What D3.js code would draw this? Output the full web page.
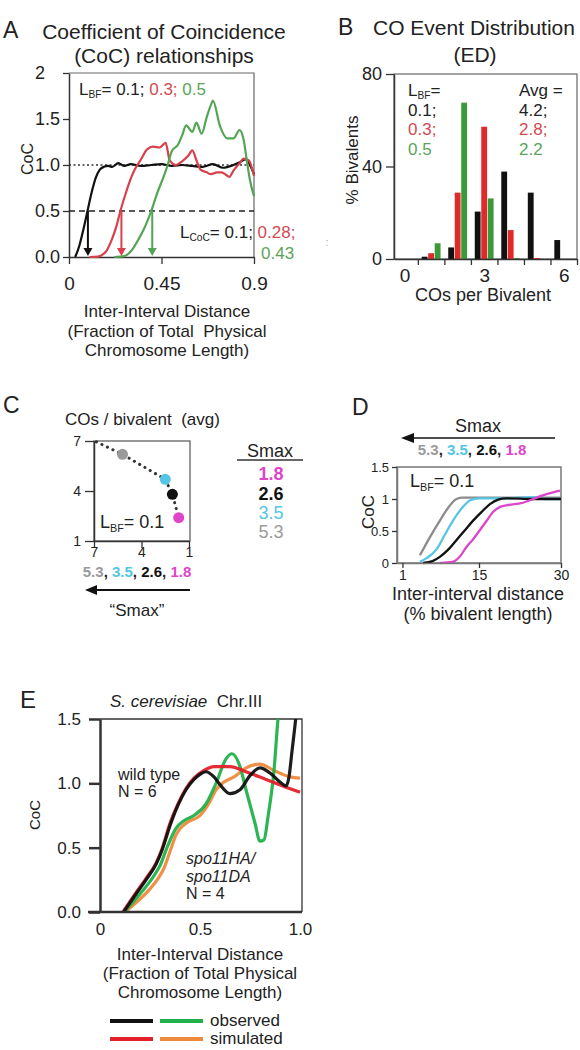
<!DOCTYPE html>
<html><head><meta charset="utf-8">
<script src="https://cdn.jsdelivr.net/npm/d3@7"></script>
<style>
html,body{margin:0;padding:0;background:#fff;}
svg{display:block;}
</style></head><body>
<svg id="fig" width="580" height="1050"></svg>
<script>
// ================= DATA =================
// Panel A: CoC curves for L_BF = 0.1 (black), 0.3 (red), 0.5 (green)  [distance, CoC]
const aBlack = [[0.03,0],[0.05,0.12],[0.07,0.3],[0.09,0.5],[0.11,0.7],[0.13,0.86],[0.15,0.95],[0.17,0.98],[0.19,0.99],[0.21,0.98],[0.24,1.02],[0.27,0.99],[0.3,1.01],[0.35,0.99],[0.4,1.0],[0.45,1.01],[0.5,0.99],[0.55,1.0],[0.6,0.99],[0.65,0.98],[0.7,1.01],[0.75,0.97],[0.8,1.0],[0.83,1.03],[0.86,1.06],[0.88,1.0],[0.9,0.9]];
const aRed = [[0.1,0],[0.14,0.005],[0.18,0.06],[0.21,0.2],[0.23,0.33],[0.25,0.5],[0.28,0.72],[0.3,0.85],[0.32,0.95],[0.35,1.06],[0.38,1.17],[0.41,1.2],[0.44,1.19],[0.47,1.24],[0.49,1.05],[0.52,1.0],[0.55,1.04],[0.58,1.1],[0.6,1.16],[0.62,1.05],[0.64,0.95],[0.67,0.92],[0.69,0.9],[0.72,0.92],[0.74,0.92],[0.76,0.9],[0.78,0.87],[0.8,0.94],[0.83,1.02],[0.85,1.07],[0.875,1.05],[0.9,0.88]];
const aGreen = [[0.22,0],[0.27,0.01],[0.3,0.06],[0.34,0.2],[0.37,0.33],[0.4,0.5],[0.43,0.7],[0.46,0.87],[0.48,1.0],[0.5,1.15],[0.53,1.22],[0.55,1.32],[0.57,1.43],[0.6,1.36],[0.62,1.46],[0.645,1.34],[0.67,1.52],[0.69,1.65],[0.7,1.7],[0.735,1.42],[0.77,1.29],[0.8,1.29],[0.83,1.38],[0.85,1.27],[0.865,1.05],[0.88,0.84],[0.9,0.66]];
const aArrowX = [0.092, 0.255, 0.405];
const aYTicks = [0, 0.5, 1, 1.5, 2];
const aYTickLabels = ["0.0","0.5","1.0","1.5","2"];
const aXTicks = [0, 0.45, 0.9];
const aXTickLabels = ["0","0.45","0.9"];

// Panel B: CO event distribution (% bivalents)
const coCounts = [1,2,3,4,5,6];
const edBlack = [1.0, 5.0, 20.5, 37.8, 28.7, 8.2];
const edRed   = [2.5, 28.7, 57.2, 12.5, 0.4, 0];
const edGreen = [6.8, 67.6, 26.2, 0.4, 0, 0];
const bYTicks = [0, 40, 80];
const bXLabels = [0, 3, 6];
const bXMinorTicks = [0.5,1.5,2.5,3.5,4.5,5.5,6.5];

// Panel C: avg COs per bivalent vs Smax
const smaxLabels = ["5.3","3.5","2.6","1.8"];
const smaxPlotPos = [5.2, 2.5, 2.05, 1.65];
const avgCOs = [6.2, 4.7, 3.8, 2.4];
const cTrendX = [6.85, 5.2, 2.5, 2.05, 1.65];
const cTrendY = [6.95, 6.2, 4.7, 3.8, 2.4];
const cTicks = [1, 4, 7];

// Panel D: CoC curves for Smax values [distance %, CoC]
const dGray = [[4.2,0.12],[6,0.4],[7.9,0.67],[9.5,0.88],[10.9,1.0],[12,1.02],[15,1.02],[20,1.02],[25,1.02],[30,1.02]];
const dCyan = [[4.2,0.02],[5.5,0.08],[7.3,0.22],[8.8,0.45],[10.3,0.67],[12,0.87],[13.4,0.98],[15,1.01],[20,1.01],[25,1.03],[27,1.0],[30,1.0]];
const dBlack = [[4.8,0],[6.5,0.03],[7.9,0.1],[9.5,0.22],[10.9,0.36],[12.5,0.52],[14,0.67],[15.5,0.8],[17,0.92],[18.5,0.99],[20,1.01],[25,1.0],[30,1.0]];
const dMagenta = [[7.9,0],[10.3,0.02],[11.5,0.1],[12.7,0.25],[14,0.38],[15.2,0.52],[16.4,0.66],[17.6,0.8],[19,0.88],[20,0.9],[21.5,0.92],[22.5,0.93],[24.3,0.98],[26.8,1.06],[29.8,1.13]];
const dYTicks = [0, 0.5, 1, 1.5];
const dYTickLabels = ["0","0.5","1","1.5"];
const dXTicks = [1, 15, 30];

// Panel E: S. cerevisiae Chr.III CoC
const eBlack = [[0.118,0],[0.18,0.14],[0.23,0.25],[0.28,0.37],[0.31,0.48],[0.35,0.67],[0.39,0.83],[0.43,0.95],[0.47,1.03],[0.5,1.07],[0.53,1.09],[0.57,1.05],[0.6,0.99],[0.65,0.92],[0.7,0.95],[0.75,1.06],[0.8,1.12],[0.85,1.08],[0.9,1.01],[0.93,0.98],[0.945,1.05],[0.96,1.25],[0.975,1.45],[0.985,1.6]];
const eRed = [[0.115,0],[0.18,0.15],[0.23,0.26],[0.28,0.38],[0.31,0.49],[0.35,0.69],[0.39,0.84],[0.43,0.96],[0.47,1.04],[0.52,1.1],[0.57,1.13],[0.65,1.13],[0.73,1.09],[0.83,1.03],[0.93,0.97],[1.0,0.93]];
const eGreen = [[0.12,0],[0.2,0.14],[0.26,0.26],[0.3,0.36],[0.34,0.52],[0.38,0.65],[0.42,0.71],[0.47,0.75],[0.53,0.84],[0.58,1.0],[0.63,1.19],[0.66,1.23],[0.7,1.13],[0.73,0.95],[0.775,0.69],[0.8,0.55],[0.82,0.56],[0.84,0.74],[0.87,1.1],[0.89,1.5],[0.9,1.65]];
const eOrange = [[0.125,0],[0.2,0.1],[0.25,0.18],[0.29,0.26],[0.32,0.34],[0.35,0.47],[0.38,0.6],[0.43,0.69],[0.5,0.75],[0.55,0.86],[0.58,0.95],[0.62,1.01],[0.67,1.05],[0.73,1.12],[0.8,1.15],[0.87,1.1],[0.95,1.05],[1.0,1.04]];
const eYTicks = [0, 0.5, 1.0, 1.5];
const eXTicks = [0, 0.5, 1.0];

// ================= DRAW =================
const FONT = '"Liberation Sans", Arial, Helvetica, sans-serif';
const INK = "#222";
const svg = d3.select("#fig").attr("font-family", FONT);

const C = {
  aRed:"#d8404c", aGreen:"#52a552", aRedT:"#d24a50", aGreenT:"#5aa55a",
  bRed:"#e02a2a", bGreen:"#3a9a3a",
  gray:"#9a9a9a", cyan:"#55c5e5", magenta:"#de45c8",
  eBlack:"#111", eRed:"#e4202a", eGreen:"#22b04a", eOrange:"#ef8a3c"
};

function addText(sel, x, y, parts, size, anchor, extra) {
  const t = sel.append("text").attr("x",x).attr("y",y).attr("font-size",size)
    .attr("text-anchor",anchor||"start").attr("fill",INK);
  if (extra) for (const k in extra) t.attr(k, extra[k]);
  let shift = 0;
  parts.forEach(p => {
    if (typeof p === "string") p = {t:p};
    const s = t.append("tspan").text(p.t);
    if (p.c) s.attr("fill", p.c);
    if (p.w) s.attr("font-weight", p.w);
    if (p.i) s.attr("font-style", "italic");
    if (p.sub) {
      s.attr("font-size", size*0.6).attr("dy", size*0.2); shift = size*0.2;
    } else if (shift) { s.attr("dy", -shift); shift = 0; }
  });
  return t;
}
function styleAxis(g, size) {
  g.attr("font-family", FONT).attr("font-size", size);
  g.selectAll(".tick line").attr("stroke","#333").attr("stroke-width",1.3);
  g.selectAll(".tick text").attr("fill", INK);
  g.select(".domain").attr("stroke","#333").attr("stroke-width",1.5);
}
const smooth = d3.curveMonotoneX;

// ---------- Panel A ----------
const xA = d3.scaleLinear().domain([0,0.9]).range([69,254]);
const yA = d3.scaleLinear().domain([0,2]).range([257,73]);
const gA = svg.append("g");
addText(gA, 3, 38, ["A"], 23);
addText(gA, 164, 39, ["Coefficient of Coincidence"], 21, "middle");
addText(gA, 164, 63, ["(CoC) relationships"], 21, "middle");
gA.append("path").attr("d",`M${xA(0)},${yA(2)}H${xA(0.9)}V${yA(0)}`)
  .attr("fill","none").attr("stroke","#666").attr("stroke-width",1.2);
const axAy = gA.append("g").attr("transform",`translate(${xA(0)},0)`)
  .call(d3.axisLeft(yA).tickValues(aYTicks).tickFormat((d,i)=>aYTickLabels[i]).tickSize(6).tickSizeOuter(0));
styleAxis(axAy, 18);
axAy.selectAll(".tick text").attr("text-anchor","start").attr("x",35-xA(0));
const axAx = gA.append("g").attr("transform",`translate(0,${yA(0)})`)
  .call(d3.axisBottom(xA).tickValues(aXTicks).tickFormat((d,i)=>aXTickLabels[i]).tickSize(7).tickSizeOuter(0));
styleAxis(axAx, 19);
axAx.selectAll(".tick text").attr("dy",null).attr("y",33);
// reference lines
gA.append("line").attr("x1",xA(0)).attr("x2",xA(0.9)).attr("y1",yA(1)).attr("y2",yA(1))
  .attr("stroke","#333").attr("stroke-width",1.3).attr("stroke-dasharray","2,2.5");
gA.append("line").attr("x1",xA(0)).attr("x2",xA(0.9)).attr("y1",yA(0.5)).attr("y2",yA(0.5))
  .attr("stroke","#222").attr("stroke-width",1.6).attr("stroke-dasharray","6,4");
const lineA = d3.line().x(d=>xA(d[0])).y(d=>yA(d[1])).curve(smooth);
[[aBlack,"#111"],[aRed,C.aRed],[aGreen,C.aGreen]].forEach(([d,c]) => {
  gA.append("path").attr("d",lineA(d)).attr("fill","none").attr("stroke",c).attr("stroke-width",2.2);
});
// arrows
[["#111"],[C.aRed],[C.aGreen]].forEach(([c],i) => {
  const x = xA(aArrowX[i]);
  gA.append("line").attr("x1",x).attr("x2",x).attr("y1",yA(0.5)).attr("y2",yA(0)-7).attr("stroke",c).attr("stroke-width",2);
  gA.append("path").attr("d",`M${x-4.5},${yA(0)-9}L${x+4.5},${yA(0)-9}L${x},${yA(0)-1}Z`).attr("fill",c);
});
addText(gA, 79, 95, ["L",{t:"BF",sub:1},"= 0.1; ",{t:"0.3; ",c:C.aRedT},{t:"0.5",c:C.aGreenT}], 17);
addText(gA, 180, 238, ["L",{t:"CoC",sub:1},"= 0.1; ",{t:"0.28;",c:C.aRedT}], 17);
addText(gA, 261, 259, [{t:"0.43",c:C.aGreenT}], 17);
addText(gA, 27, 159, ["CoC"], 16, "middle", {transform:"rotate(-90,27,159)", dy:"0.35em"});
addText(gA, 167, 317, ["Inter-Interval Distance"], 17, "middle");
addText(gA, 167, 337, ["(Fraction of Total  Physical"], 17, "middle", {"xml:space":"preserve"});
addText(gA, 167, 356, ["Chromosome Length)"], 17, "middle");
addText(gA, 327, 246, [":"], 11, "middle", {fill:"#aaa"});

// ---------- Panel B ----------
const xB = d3.scaleLinear().domain([-0.4,6.5]).range([394,577]);
const yB = d3.scaleLinear().domain([0,80]).range([259,74]);
const gB = svg.append("g");
addText(gB, 338, 35, ["B"], 23);
addText(gB, 474, 35, ["CO Event Distribution"], 21, "middle");
addText(gB, 475, 62, ["(ED)"], 21, "middle");
gB.append("rect").attr("x",xB(-0.4)).attr("y",yB(80)).attr("width",xB(6.5)-xB(-0.4)).attr("height",yB(0)-yB(80))
  .attr("fill","none").attr("stroke","#666").attr("stroke-width",1.2);
const bw = xB(0.22)-xB(0);
[[edBlack,"#111",-0.245],[edRed,C.bRed,0],[edGreen,C.bGreen,0.245]].forEach(([vals,c,off]) => {
  gB.selectAll(null).data(coCounts).enter().append("rect")
    .attr("x",(d,i)=>xB(d+off)-bw/2).attr("width",bw)
    .attr("y",(d,i)=>yB(vals[i])).attr("height",(d,i)=>yB(0)-yB(vals[i]))
    .attr("fill",c);
});
const axBy = gB.append("g").attr("transform",`translate(${xB(-0.4)},0)`)
  .call(d3.axisLeft(yB).tickValues(bYTicks).tickFormat(d3.format("d")).tickSize(8).tickPadding(4).tickSizeOuter(0));
styleAxis(axBy, 18);
const axBx = gB.append("g").attr("transform",`translate(0,${yB(0)})`)
  .call(d3.axisBottom(xB).tickValues(bXMinorTicks).tickFormat("").tickSize(6).tickSizeOuter(0));
styleAxis(axBx, 18);
const axBl = gB.append("g").attr("transform",`translate(0,${yB(0)})`)
  .call(d3.axisBottom(xB).tickValues(bXLabels).tickFormat(d3.format("d")).tickSize(0).tickSizeOuter(0));
styleAxis(axBl, 19);
axBl.select(".domain").remove();
axBl.selectAll(".tick text").attr("dy",null).attr("y",23);
addText(gB, 408, 96, ["L",{t:"BF",sub:1},"="], 17);
addText(gB, 408, 116, ["0.1;"], 17);
addText(gB, 408, 135, [{t:"0.3;",c:C.aRedT}], 17);
addText(gB, 408, 155, [{t:"0.5",c:C.aGreenT}], 17);
addText(gB, 519, 96, ["Avg ="], 17);
addText(gB, 519, 116, ["4.2;"], 17);
addText(gB, 519, 135, [{t:"2.8;",c:C.aRedT}], 17);
addText(gB, 519, 155, [{t:"2.2",c:C.aGreenT}], 17);
addText(gB, 352, 160, ["% Bivalents"], 17, "middle", {transform:"rotate(-90,352,160)", dy:"0.35em"});
addText(gB, 483, 301, ["COs per Bivalent"], 18, "middle");

// ---------- Panel C ----------
const xC = d3.scaleLinear().domain([7,1]).range([94,189]);
const yC = d3.scaleLinear().domain([1,7]).range([541,441]);
const gC = svg.append("g");
addText(gC, 3, 413, ["C"], 23);
addText(gC, 65, 425, ["COs / bivalent  (avg)"], 17, "start", {"xml:space":"preserve"});
gC.append("rect").attr("x",xC(7)).attr("y",yC(7)).attr("width",xC(1)-xC(7)+1).attr("height",yC(1)-yC(7))
  .attr("fill","none").attr("stroke","#555").attr("stroke-width",1.2);
const axCy = gC.append("g").attr("transform",`translate(${xC(7)},0)`)
  .call(d3.axisLeft(yC).tickValues(cTicks).tickFormat(d3.format("d")).tickSize(9).tickPadding(4).tickSizeOuter(0));
styleAxis(axCy, 14);
const axCx = gC.append("g").attr("transform",`translate(0,${yC(1)})`)
  .call(d3.axisBottom(xC).tickValues(cTicks).tickFormat(d3.format("d")).tickSize(7).tickSizeOuter(0));
styleAxis(axCx, 14);
axCx.selectAll(".tick text").attr("dy",null).attr("y",16);
const trend = cTrendX.map((x,i)=>[x,cTrendY[i]]);
gC.append("path").attr("d", d3.line().x(d=>xC(d[0])).y(d=>yC(d[1]))(trend))
  .attr("fill","none").attr("stroke","#333").attr("stroke-width",3)
  .attr("stroke-linecap","round").attr("stroke-dasharray","0.1,6");
const cColors = [C.gray, C.cyan, "#111", C.magenta];
gC.selectAll(null).data(smaxPlotPos).enter().append("circle")
  .attr("cx",d=>xC(d)).attr("cy",(d,i)=>yC(avgCOs[i])).attr("r",5.5).attr("fill",(d,i)=>cColors[i]);
addText(gC, 100, 528, ["L",{t:"BF",sub:1},"= 0.1"], 18);
addText(gC, 137, 577, [{t:"5.3",c:C.gray},", ",{t:"3.5",c:C.cyan},", ",{t:"2.6",c:"#111"},", ",{t:"1.8",c:C.magenta}], 15, "middle", {"font-weight":"bold"});
gC.append("line").attr("x1",190).attr("x2",94).attr("y1",590).attr("y2",590).attr("stroke","#111").attr("stroke-width",2);
gC.append("path").attr("d","M85,590L97,585L97,595Z").attr("fill","#111");
addText(gC, 137, 616, ["\u201CSmax\u201D"], 17, "middle");
// Smax table
addText(gC, 270, 457, ["Smax"], 18, "middle");
gC.append("line").attr("x1",237).attr("x2",303).attr("y1",460).attr("y2",460).attr("stroke","#333").attr("stroke-width",1.3);
const tblY = [480, 500, 519, 538];
const tblOrder = [3,2,1,0];
tblOrder.forEach((k,j) => {
  addText(gC, 271, tblY[j], [{t:smaxLabels[k], c:cColors[k]}], 18, "middle", {"font-weight": k>=2 ? "bold" : "normal"});
});

// ---------- Panel D ----------
const xD = d3.scaleLinear().domain([0,30]).range([397,561]);
const yD = d3.scaleLinear().domain([0,1.5]).range([563,467]);
const gD = svg.append("g");
addText(gD, 352, 415, ["D"], 23);
addText(gD, 478, 432, ["Smax"], 18, "middle");
gD.append("line").attr("x1",555).attr("x2",410).attr("y1",438).attr("y2",438).attr("stroke","#111").attr("stroke-width",1.6);
gD.append("path").attr("d","M401,438L414,433L414,443Z").attr("fill","#111");
addText(gD, 472, 455, [{t:"5.3",c:C.gray},", ",{t:"3.5",c:C.cyan},", ",{t:"2.6",c:"#111"},", ",{t:"1.8",c:C.magenta}], 15, "middle", {"font-weight":"bold"});
gD.append("rect").attr("x",xD(0)).attr("y",yD(1.5)).attr("width",xD(30)-xD(0)).attr("height",yD(0)-yD(1.5))
  .attr("fill","none").attr("stroke","#777").attr("stroke-width",1.5);
const lineD = d3.line().x(d=>xD(d[0])).y(d=>yD(d[1])).curve(d3.curveMonotoneX);
[[dGray,"#8c8c8c"],[dCyan,C.cyan],[dBlack,"#111"],[dMagenta,C.magenta]].forEach(([d,c]) => {
  gD.append("path").attr("d",lineD(d)).attr("fill","none").attr("stroke",c).attr("stroke-width",2.3);
});
const axDy = gD.append("g").attr("transform",`translate(${xD(0)},0)`)
  .call(d3.axisLeft(yD).tickValues(dYTicks).tickFormat((d,i)=>dYTickLabels[i]).tickSize(5).tickPadding(3).tickSizeOuter(0));
styleAxis(axDy, 13);
axDy.select(".domain").attr("stroke","#777");
const axDx = gD.append("g").attr("transform",`translate(0,${yD(0)})`)
  .call(d3.axisBottom(xD).tickValues(dXTicks).tickSize(5).tickSizeOuter(0));
styleAxis(axDx, 14);
axDx.select(".domain").attr("stroke","#777");
axDx.selectAll(".tick text").attr("dy",null).attr("y",17);
addText(gD, 410, 487, ["L",{t:"BF",sub:1},"= 0.1"], 18);
addText(gD, 368, 512, ["CoC"], 17, "middle", {transform:"rotate(-90,368,512)", dy:"0.35em"});
addText(gD, 478, 600, ["Inter-interval distance"], 18, "middle");
addText(gD, 478, 620, ["(% bivalent length)"], 18, "middle");

// ---------- Panel E ----------
const xE = d3.scaleLinear().domain([0,1]).range([100,300]);
const yE = d3.scaleLinear().domain([0,1.5]).range([912,719]);
const gE = svg.append("g");
addText(gE, 20, 708, ["E"], 24);
addText(gE, 110, 707, [{t:"S. cerevisiae",i:1},"  Chr.III"], 17, "start", {"xml:space":"preserve"});
gE.append("path").attr("d",`M${xE(0)},${yE(1.5)}H${xE(1)+2}V${yE(0)}`)
  .attr("fill","none").attr("stroke","#333").attr("stroke-width",1.3);
svg.append("defs").append("clipPath").attr("id","clipE").append("rect")
  .attr("x",xE(0)).attr("y",yE(1.5)).attr("width",xE(1)+2-xE(0)).attr("height",yE(0)-yE(1.5));
const lineE = d3.line().x(d=>xE(d[0])).y(d=>yE(d[1])).curve(smooth);
const gEc = gE.append("g").attr("clip-path","url(#clipE)");
[[eOrange,C.eOrange],[eGreen,C.eGreen],[eRed,C.eRed],[eBlack,C.eBlack]].forEach(([d,c]) => {
  gEc.append("path").attr("d",lineE(d)).attr("fill","none").attr("stroke",c).attr("stroke-width",3.2).attr("stroke-opacity",0.95);
});
const axEy = gE.append("g").attr("transform",`translate(${xE(0)},0)`)
  .call(d3.axisLeft(yE).tickValues(eYTicks).tickFormat(d3.format(".1f")).tickSize(11).tickPadding(8).tickSizeOuter(0));
styleAxis(axEy, 17);
axEy.select(".domain").attr("stroke-width",2.5);
axEy.selectAll(".tick line").attr("stroke-width",2.5);
const axEx = gE.append("g").attr("transform",`translate(0,${yE(0)})`)
  .call(d3.axisBottom(xE).tickValues(eXTicks).tickFormat((d)=> d===0 ? "0" : d3.format(".1f")(d)).tickSize(0).tickSizeOuter(0));
styleAxis(axEx, 17);
axEx.select(".domain").attr("d",`M${xE(0)-12},0H${xE(1)+2}`).attr("stroke-width",2.5);
axEx.selectAll(".tick text").attr("dy",null).attr("y",23);
addText(gE, 35, 815, ["CoC"], 15, "middle", {transform:"rotate(-90,35,815)", dy:"0.35em"});
addText(gE, 118, 780, ["wild type"], 16);
addText(gE, 118, 797, ["N = 6"], 16);
addText(gE, 186, 864, [{t:"spo11HA/",i:1}], 16);
addText(gE, 186, 882, [{t:"spo11DA",i:1}], 16);
addText(gE, 186, 899, ["N = 4"], 16);
addText(gE, 200, 960, ["Inter-Interval Distance"], 17, "middle");
addText(gE, 200, 979, ["(Fraction of Total Physical"], 17, "middle");
addText(gE, 200, 998, ["Chromosome Length)"], 17, "middle");
// legend
const legRows = [[["#111",C.eGreen],"observed",1021],[[C.eRed,C.eOrange],"simulated",1039]];
legRows.forEach(([cols,label,y]) => {
  gE.append("line").attr("x1",110).attr("x2",153).attr("y1",y).attr("y2",y).attr("stroke",cols[0]).attr("stroke-width",4);
  gE.append("line").attr("x1",160).attr("x2",203).attr("y1",y).attr("y2",y).attr("stroke",cols[1]).attr("stroke-width",4);
  addText(gE, 210, y+5, [label], 17);
});
</script></body></html>
